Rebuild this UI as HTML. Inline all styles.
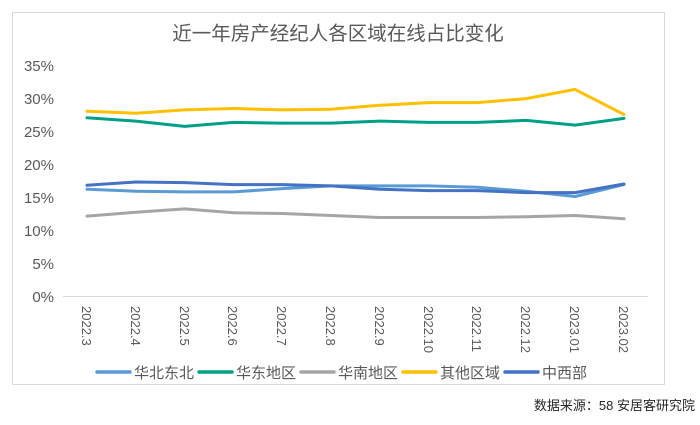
<!DOCTYPE html>
<html><head><meta charset="utf-8"><style>
body{margin:0;background:#fff;}
svg text{font-family:"Liberation Sans","Noto Sans CJK SC",sans-serif;}
</style></head><body>
<svg width="700" height="420" xmlns="http://www.w3.org/2000/svg">
<rect x="12.5" y="12.5" width="652" height="372" fill="#fff" stroke="#d9d9d9" stroke-width="1"/>
<text x="338" y="40" text-anchor="middle" font-size="19.5" fill="#595959">近一年房产经纪人各区域在线占比变化</text>
<g font-size="15" fill="#595959" text-anchor="end">
<text x="54" y="71">35%</text><text x="54" y="104">30%</text><text x="54" y="137">25%</text>
<text x="54" y="170">20%</text><text x="54" y="203">15%</text><text x="54" y="236">10%</text>
<text x="54" y="269">5%</text><text x="54" y="302">0%</text>
</g>
<line x1="63" y1="296.5" x2="648" y2="296.5" stroke="#d9d9d9" stroke-width="1"/>
<g font-size="13" fill="#595959">
<text transform="translate(82,306) rotate(90)">2022.3</text>
<text transform="translate(131,306) rotate(90)">2022.4</text>
<text transform="translate(180,306) rotate(90)">2022.5</text>
<text transform="translate(228,306) rotate(90)">2022.6</text>
<text transform="translate(277,306) rotate(90)">2022.7</text>
<text transform="translate(326,306) rotate(90)">2022.8</text>
<text transform="translate(375,306) rotate(90)">2022.9</text>
<text transform="translate(424,306) rotate(90)">2022.10</text>
<text transform="translate(472,306) rotate(90)">2022.11</text>
<text transform="translate(521,306) rotate(90)">2022.12</text>
<text transform="translate(570,306) rotate(90)">2023.01</text>
<text transform="translate(619,306) rotate(90)">2023.02</text>
</g>
<g fill="none" stroke-width="3" stroke-linejoin="round" stroke-linecap="round">
<polyline stroke="#a5a5a5" points="87,216.1 135.8,212.2 184.6,208.9 233.4,212.8 282.2,213.5 331,215.5 379.8,217.5 428.6,217.5 477.4,217.5 526.2,216.8 575,215.5 624,218.8"/>
<polyline stroke="#5b9bd5" points="87,189.2 135.8,191.2 184.6,191.9 233.4,191.9 282.2,188.6 331,185.9 379.8,185.9 428.6,185.9 477.4,187.3 526.2,191.2 575,196.5 624,184.6"/>
<polyline stroke="#4472c4" points="87,185.3 135.8,182 184.6,182.6 233.4,184.6 282.2,184.6 331,185.9 379.8,189.2 428.6,190.6 477.4,190.6 526.2,192.6 575,192.6 624,184"/>
<polyline stroke="#00a087" points="87,117.8 135.8,121.1 184.6,126.4 233.4,122.4 282.2,123.1 331,123.1 379.8,121.1 428.6,122.4 477.4,122.4 526.2,120.4 575,125.1 624,118.4"/>
<polyline stroke="#ffc000" points="87,111.2 135.8,113.2 184.6,109.9 233.4,108.5 282.2,109.9 331,109.2 379.8,105.3 428.6,102.6 477.4,102.6 526.2,98.6 575,89.4 624,114.5"/>
</g>
<g stroke-width="3.5" stroke-linecap="round">
<line x1="97" y1="372" x2="130" y2="372" stroke="#5b9bd5"/>
<line x1="199" y1="372" x2="232" y2="372" stroke="#00a087"/>
<line x1="301" y1="372" x2="334" y2="372" stroke="#a5a5a5"/>
<line x1="403" y1="372" x2="436" y2="372" stroke="#ffc000"/>
<line x1="505" y1="372" x2="538" y2="372" stroke="#4472c4"/>
</g>
<g font-size="15" fill="#595959">
<text x="134" y="378">华北东北</text>
<text x="236" y="378">华东地区</text>
<text x="338" y="378">华南地区</text>
<text x="440" y="378">其他区域</text>
<text x="542" y="378">中西部</text>
</g>
<text x="695" y="410" text-anchor="end" font-size="13" fill="#262626">数据来源：58 安居客研究院</text>
</svg>
</body></html>
